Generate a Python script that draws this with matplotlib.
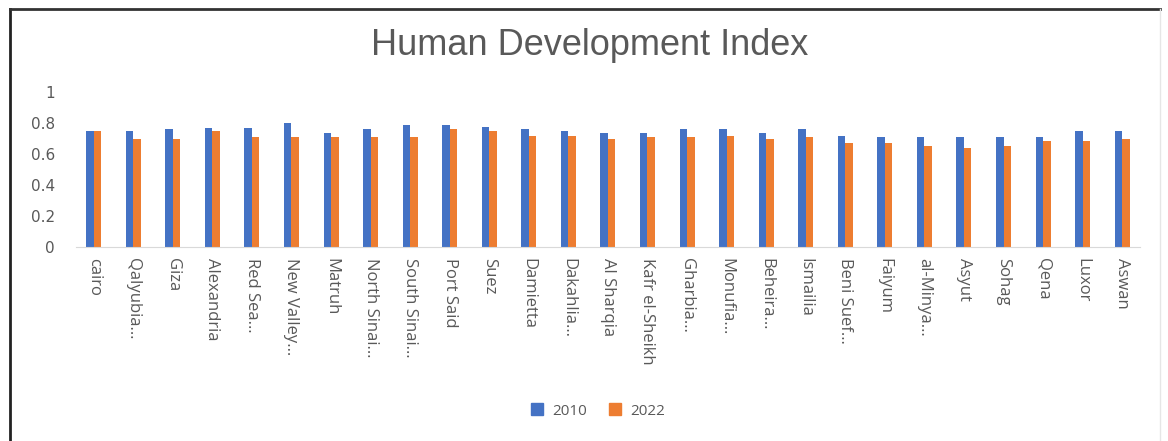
import numpy as np
import matplotlib
matplotlib.use('Agg')
import matplotlib.pyplot as plt
from matplotlib.lines import Line2D

# 데이터
governorates = ['cairo', 'Qalyubia…', 'Giza', 'Alexandria', 'Red Sea…', 'New Valley…',
                'Matruh', 'North Sinai…', 'South Sinai…', 'Port Said', 'Suez', 'Damietta',
                'Dakahlia…', 'Al Sharqia', 'Kafr el-Sheikh', 'Gharbia…', 'Monufia…',
                'Beheira…', 'Ismailia', 'Beni Suef…', 'Faiyum', 'al-Minya…', 'Asyut',
                'Sohag', 'Qena', 'Luxor', 'Aswan']
hdi_2010 = [0.75, 0.75, 0.76, 0.77, 0.77, 0.80, 0.735, 0.76, 0.787, 0.787, 0.774, 0.76,
            0.748, 0.735, 0.735, 0.76, 0.76, 0.735, 0.76, 0.72, 0.708, 0.708, 0.708,
            0.708, 0.708, 0.748, 0.748]
hdi_2022 = [0.75, 0.695, 0.695, 0.748, 0.708, 0.708, 0.708, 0.708, 0.708, 0.759, 0.748,
            0.72, 0.72, 0.695, 0.708, 0.708, 0.72, 0.695, 0.708, 0.669, 0.669, 0.654,
            0.641, 0.654, 0.682, 0.682, 0.695]
years = ['2010', '2022']

blue = '#4472C4'
orange = '#ED7D31'
gray_text = '#595959'

fig = plt.figure(figsize=(11.68, 4.41), dpi=100)
ax = fig.add_axes([0.065, 0.44, 0.911, 0.351])

x = np.arange(len(governorates))
w = 0.19
ax.bar(x - w / 2, hdi_2010, width=w, color=blue)
ax.bar(x + w / 2, hdi_2022, width=w, color=orange)

ax.set_xlim(-0.45, len(governorates) - 0.55)
ax.set_ylim(0, 1)
ax.set_yticks([0, 0.2, 0.4, 0.6, 0.8, 1])
ax.set_yticklabels(['0', '0.2', '0.4', '0.6', '0.8', '1'], fontsize=11,
                   color=gray_text, family='DejaVu Sans')
ax.set_xticks(x)
ax.set_xticklabels(governorates, rotation=-90, fontsize=12, color=gray_text,
                   family='Open Sans', va='top', ha='center')
ax.tick_params(axis='y', length=0, pad=15)
ax.tick_params(axis='x', length=0, pad=8)
for s in ['top', 'right', 'left']:
    ax.spines[s].set_visible(False)
ax.spines['bottom'].set_color('#D9D9D9')

fig.text(0.505, 0.896, 'Human Development Index', ha='center', va='center',
         fontsize=26, color=gray_text, family='Liberation Sans')

handles = [Line2D([], [], marker='s', linestyle='none', markersize=8, color=blue),
           Line2D([], [], marker='s', linestyle='none', markersize=8, color=orange)]
fig.legend(handles, years, loc='center', bbox_to_anchor=(0.508, 0.068), ncol=2,
           frameon=False, handletextpad=0.0, columnspacing=0.8,
           prop={'family': 'Open Sans', 'size': 11}, labelcolor=gray_text)

# 테두리
fig.add_artist(Line2D([10 / 1168, 10 / 1168], [0, 1 - 9 / 441], color='#222222',
                      linewidth=2, transform=fig.transFigure))
fig.add_artist(Line2D([10 / 1168, 1160 / 1168], [1 - 9 / 441, 1 - 9 / 441],
                      color='#333333', linewidth=2, transform=fig.transFigure))
fig.add_artist(Line2D([1160 / 1168, 1160 / 1168], [0, 1 - 9 / 441], color='#E6E6E6',
                      linewidth=1, transform=fig.transFigure))

fig.savefig('out.png', dpi=100)
